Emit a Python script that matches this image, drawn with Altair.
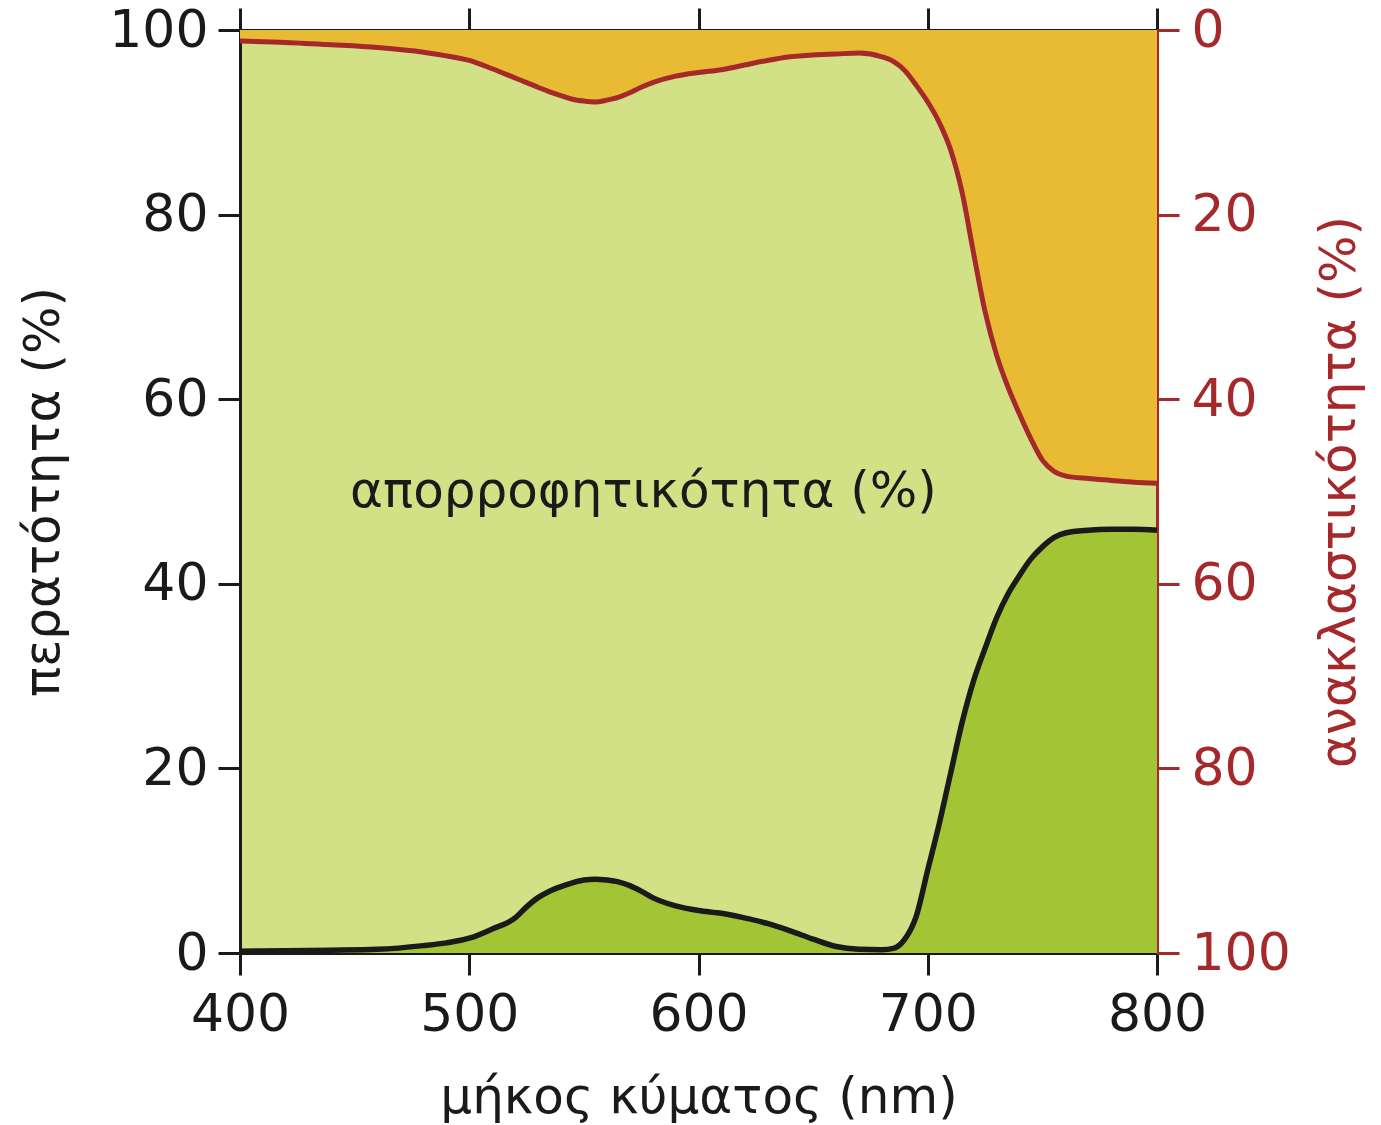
import altair as alt
import pandas as pd

# wavelength (nm)
wavelength = [400, 420, 440, 460, 480, 490, 500, 510, 520, 525, 530, 535, 540, 545,
              550, 555, 560, 565, 570, 575, 580, 590, 600, 610, 620, 630, 640, 650,
              660, 670, 680, 685, 690, 695, 700, 705, 710, 715, 720, 725, 730, 735,
              740, 745, 750, 755, 760, 770, 780, 790, 800]
# transmittance (%) - left axis
transmittance = [0.2, 0.25, 0.3, 0.4, 0.8, 1.1, 1.6, 2.6, 3.8, 5.0, 6.0, 6.7, 7.2, 7.6,
                 7.9, 8.0, 7.9, 7.7, 7.3, 6.7, 6.0, 5.1, 4.6, 4.3, 3.8, 3.2, 2.4, 1.5,
                 0.7, 0.4, 0.35, 0.5, 1.5, 4.0, 9.0, 14.0, 19.5, 25.0, 29.5, 33.0, 36.3, 38.9,
                 40.9, 42.7, 44.0, 45.0, 45.5, 45.8, 45.9, 45.9, 45.8]
# reflectance (%) - right axis (reversed)
reflectance = [1.2, 1.35, 1.6, 1.9, 2.4, 2.8, 3.3, 4.2, 5.2, 5.7, 6.2, 6.7, 7.1, 7.5,
               7.7, 7.8, 7.6, 7.3, 6.8, 6.2, 5.7, 5.0, 4.6, 4.3, 3.8, 3.3, 2.9, 2.7,
               2.6, 2.5, 2.9, 3.4, 4.4, 6.0, 7.8, 10.0, 13.0, 17.6, 24.2, 30.5, 35.2, 38.7,
               41.6, 44.3, 46.6, 47.8, 48.3, 48.6, 48.8, 49.0, 49.1]

x_ticks = [400, 500, 600, 700, 800]
y_ticks = [0, 20, 40, 60, 80, 100]

annotation_text = ["απορροφητικότητα (%)"]
annotation_x = [576]
annotation_y = [50]

df = pd.DataFrame({"wl": wavelength, "T": transmittance, "R": reflectance})
ann = pd.DataFrame({"x": annotation_x, "y": annotation_y, "t": annotation_text})

FONT = "DejaVu Sans"
RED = "#a5282b"
BLACK = "#1a1a1a"
ORANGE = "#e9bb35"
LIGHT = "#d2e086"
DARK = "#a3c535"
LFS = 52
TFS = 50

common_axis = dict(labelFont=FONT, titleFont=FONT, labelFontSize=LFS, titleFontSize=TFS,
                   titleFontWeight="normal", tickSize=22, tickWidth=3, domainWidth=3,
                   grid=False, labelFlush=False, labelOverlap=False)

x_bottom = alt.X("wl:Q", scale=alt.Scale(domain=[400, 800], nice=False, zero=False),
                 axis=alt.Axis(orient="bottom", values=x_ticks, title="μήκος κύματος (nm)",
                               labelPadding=14, titlePadding=32, domainColor=BLACK,
                               tickColor=BLACK, labelColor=BLACK, titleColor=BLACK,
                               **common_axis))
y_left = alt.Y("T:Q", scale=alt.Scale(domain=[0, 100], nice=False),
               axis=alt.Axis(orient="left", values=y_ticks, title="περατότητα (%)",
                             labelPadding=10, titlePadding=40, domainColor=BLACK,
                             tickColor=BLACK, labelColor=BLACK, titleColor=BLACK,
                             **common_axis))

area_t = alt.Chart(df).mark_area(color=DARK, interpolate="monotone").encode(x=x_bottom, y=y_left)
line_t = alt.Chart(df).mark_line(color=BLACK, strokeWidth=5.5, interpolate="monotone").encode(
    x=x_bottom, y=y_left)
text = alt.Chart(ann).mark_text(font=FONT, fontSize=TFS, color=BLACK, align="center",
                                baseline="middle").encode(
    x=alt.X("x:Q", scale=alt.Scale(domain=[400, 800], nice=False, zero=False)),
    y=alt.Y("y:Q", scale=alt.Scale(domain=[0, 100], nice=False)),
    text="t:N")

left_layer = alt.layer(area_t, line_t, text)

x_top = alt.X("wl:Q", scale=alt.Scale(domain=[400, 800], nice=False, zero=False),
              axis=alt.Axis(orient="top", values=x_ticks, title=None, labels=False,
                            domainColor=BLACK, tickColor=BLACK, **common_axis))
y_right = alt.Y("R:Q", scale=alt.Scale(domain=[0, 100], nice=False, reverse=True),
                axis=alt.Axis(orient="right", values=y_ticks, title="ανακλαστικότητα (%)",
                              labelPadding=12, titlePadding=74, titleAngle=270,
                              domainColor=RED, tickColor=RED, labelColor=RED,
                              titleColor=RED, **common_axis))

area_r = alt.Chart(df).mark_area(color=ORANGE, interpolate="monotone").encode(x=x_top, y=y_right)
line_r = alt.Chart(df).mark_line(color=RED, strokeWidth=5, interpolate="monotone").encode(
    x=x_top, y=y_right)

right_layer = alt.layer(area_r, line_r)

chart = alt.layer(left_layer, right_layer).resolve_scale(
    x="independent", y="independent"
).properties(
    width=917, height=923,
    autosize=alt.AutoSizeParams(type="none"),
    padding={"left": 240, "top": 30, "right": 224, "bottom": 172},
    background="white",
).configure_view(fill=LIGHT, stroke=None)

chart.save("out.html", embed_options={"renderer": "svg", "actions": False})
